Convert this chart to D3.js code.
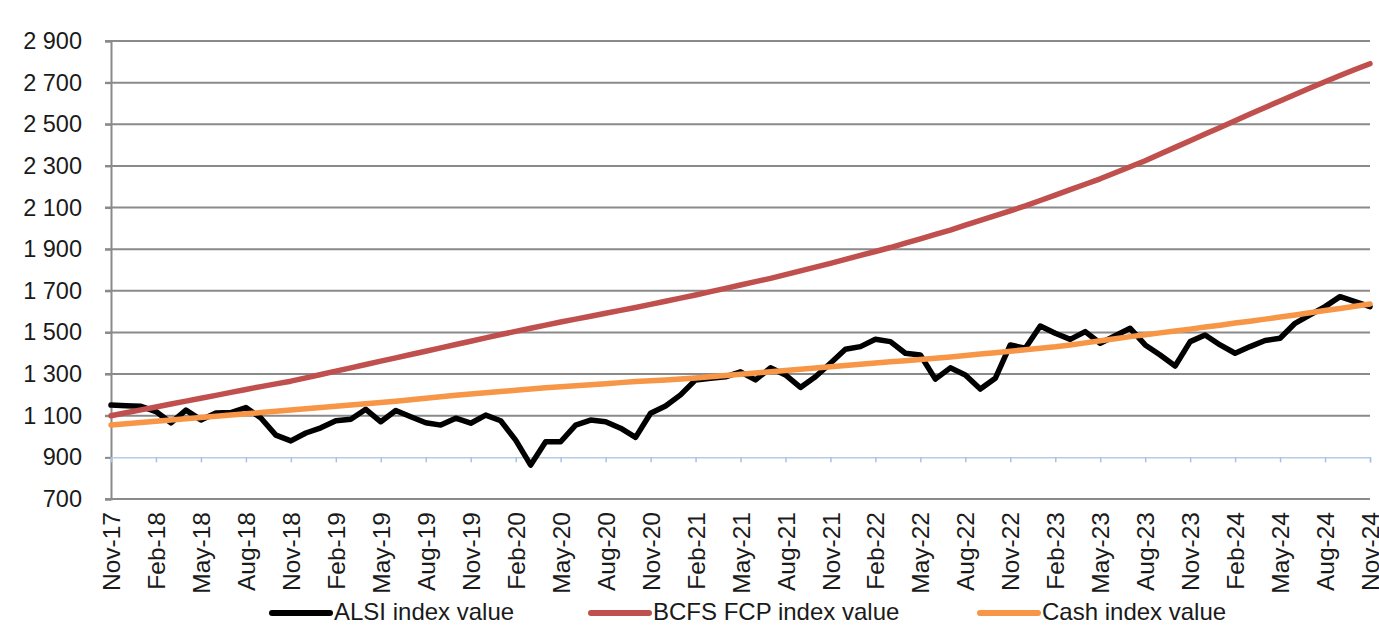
<!DOCTYPE html>
<html>
<head>
<meta charset="utf-8">
<script src="https://cdn.jsdelivr.net/npm/d3@7"></script>
<style>
  body { margin: 0; background: #fff; }
  text { font-family: "Liberation Sans", Arial, sans-serif; fill: #1a1a1a; }
</style>
</head>
<body>
<svg id="chart" width="1379" height="626"></svg>
<script>
// monthly index values, Nov-17 .. Nov-24
const alsi = [1151, 1148, 1145, 1120, 1066, 1127, 1080, 1113, 1115, 1139,
  1089, 1007, 979, 1017, 1042, 1076, 1083, 1131, 1071, 1125,
  1095, 1066, 1055, 1088, 1064, 1103, 1076, 983, 863, 975,
  975, 1055, 1079, 1071, 1040, 996, 1112, 1147, 1200, 1272,
  1280, 1287, 1311, 1272, 1330, 1296, 1236, 1287, 1352, 1419,
  1432, 1467, 1456, 1400, 1392, 1276, 1330, 1296, 1228, 1280,
  1440, 1424, 1531, 1496, 1467, 1504, 1448, 1484, 1520, 1440,
  1392, 1339, 1456, 1488, 1440, 1400, 1432, 1461, 1472, 1544,
  1584, 1624, 1672, 1648, 1624];

const bcfs = [1100, 1114, 1128, 1142, 1156, 1170, 1184, 1198, 1212, 1226,
  1240, 1253, 1266, 1282, 1298, 1314, 1330, 1346, 1362, 1378,
  1394, 1410, 1426, 1442, 1458, 1474, 1490, 1505, 1520, 1535,
  1550, 1564, 1578, 1592, 1606, 1620, 1635, 1650, 1665, 1680,
  1696, 1712, 1728, 1744, 1760, 1778, 1796, 1814, 1832, 1851,
  1870, 1889, 1908, 1929, 1950, 1971, 1992, 2015, 2038, 2061,
  2084, 2108, 2134, 2160, 2186, 2212, 2238, 2267, 2296, 2325,
  2357, 2389, 2421, 2453, 2485, 2517, 2549, 2581, 2612, 2643,
  2674, 2704, 2734, 2763, 2791];

const cash = [1055, 1061, 1067, 1073, 1079, 1085, 1091, 1097, 1103, 1109,
  1115, 1121, 1127, 1133, 1139, 1145, 1151, 1157, 1163, 1170,
  1177, 1184, 1191, 1198, 1204, 1210, 1216, 1222, 1228, 1234,
  1239, 1244, 1249, 1254, 1259, 1264, 1268, 1272, 1276, 1281,
  1287, 1293, 1299, 1305, 1311, 1317, 1323, 1329, 1335, 1341,
  1347, 1353, 1359, 1364, 1370, 1376, 1382, 1389, 1396, 1403,
  1410, 1417, 1424, 1431, 1440, 1450, 1460, 1470, 1480, 1489,
  1498, 1507, 1516, 1526, 1535, 1545, 1554, 1564, 1574, 1584,
  1595, 1605, 1615, 1626, 1637];

const yTicks = [700, 900, 1100, 1300, 1500, 1700, 1900, 2100, 2300, 2500, 2700, 2900];
const seriesNames = ["ALSI index value", "BCFS FCP index value", "Cash index value"];
const seriesColors = ["#000000", "#c0504d", "#f79646"];

// category labels
const months = d3.timeMonth.range(new Date(2017, 10, 1), new Date(2024, 11, 1));
const labels = months.map(d3.timeFormat("%b-%y"));
const shownLabels = labels.filter((d, i) => i % 3 === 0);

const svg = d3.select("#chart");
const plotLeft = 111, plotRight = 1370, plotTop = 41, plotBottom = 499;

const x = d3.scalePoint().domain(labels).range([plotLeft, plotRight]);
const y = d3.scaleLinear().domain([700, 2900]).range([plotBottom, plotTop]);

// gridlines (900 is the category axis line)
svg.append("g")
  .selectAll("line")
  .data(yTicks.filter(d => d !== 900))
  .join("line")
  .attr("x1", plotLeft - 6)
  .attr("x2", plotRight)
  .attr("y1", d => y(d))
  .attr("y2", d => y(d))
  .attr("stroke", "#8a8a8a")
  .attr("stroke-width", 2);

// value axis
const yAxis = svg.append("g")
  .attr("transform", `translate(${plotLeft},0)`)
  .call(d3.axisLeft(y).tickValues(yTicks).tickSize(6).tickPadding(23)
    .tickFormat(d => d3.format(",")(d).replace(",", " ")));
yAxis.select(".domain").attr("stroke", "#8a8a8a").attr("stroke-width", 2);
yAxis.selectAll(".tick line").attr("stroke", "#8a8a8a").attr("stroke-width", 2);
yAxis.selectAll(".tick text").style("font-size", "23.5px").attr("fill", "#1a1a1a");

// category axis crossing at 900
const xAxis = svg.append("g")
  .attr("transform", `translate(0,${y(900)})`)
  .call(d3.axisBottom(x).tickValues(shownLabels).tickSize(5).tickFormat(""));
xAxis.select(".domain").attr("stroke", "#b7cbe6").attr("stroke-width", 1.5);
xAxis.selectAll(".tick line").attr("stroke", "#a9c0e0").attr("stroke-width", 1.5);

// category labels at the bottom
const xLab = svg.append("g")
  .attr("transform", `translate(0,${plotBottom})`)
  .call(d3.axisBottom(x).tickValues(shownLabels).tickSize(0));
xLab.select(".domain").remove();
xLab.selectAll(".tick text")
  .style("font-size", "24.5px")
  .attr("fill", "#1a1a1a")
  .attr("text-anchor", "end")
  .attr("transform", "rotate(-90)")
  .attr("x", -13)
  .attr("y", 0)
  .attr("dy", "0.35em");

// series
const line = d3.line()
  .x((d, i) => x(labels[i]))
  .y(d => y(d));

[alsi, bcfs, cash].forEach((s, k) => {
  svg.append("path")
    .datum(s)
    .attr("d", line)
    .attr("fill", "none")
    .attr("stroke", seriesColors[k])
    .attr("stroke-width", 5.5)
    .attr("stroke-linejoin", "round")
    .attr("stroke-linecap", "round");
});

// legend
const legendX = [269, 588, 977];
const legend = svg.append("g");
seriesNames.forEach((name, k) => {
  legend.append("line")
    .attr("x1", legendX[k] + 3)
    .attr("x2", legendX[k] + 61)
    .attr("y1", 613)
    .attr("y2", 613)
    .attr("stroke", seriesColors[k])
    .attr("stroke-width", 6)
    .attr("stroke-linecap", "round");
  legend.append("text")
    .attr("x", legendX[k] + 65)
    .attr("y", 612)
    .attr("dy", "0.35em")
    .style("font-size", "24px")
    .text(name);
});
</script>
</body>
</html>
